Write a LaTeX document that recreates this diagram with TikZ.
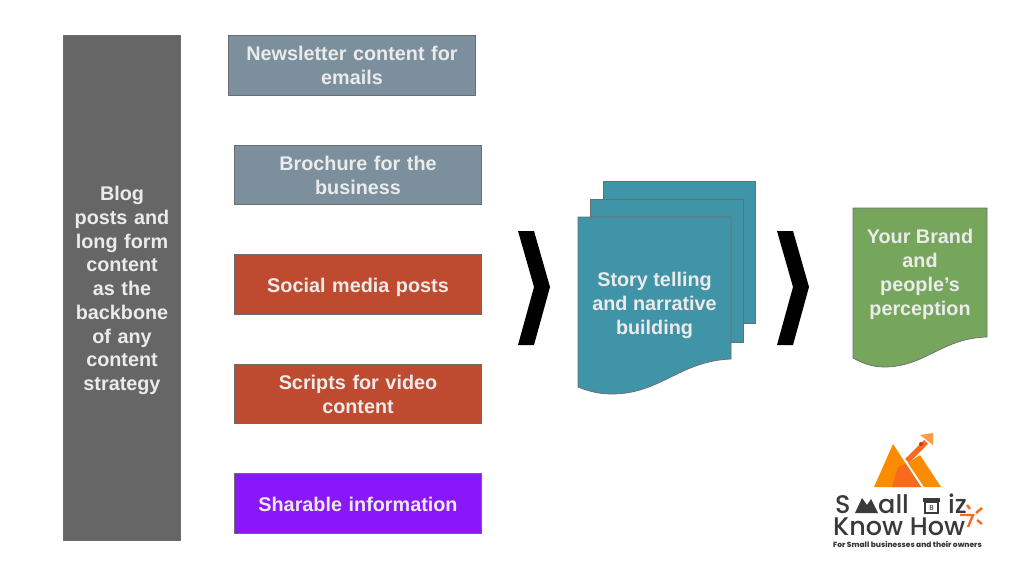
\documentclass[tikz,border=0pt]{standalone}
\usepackage{xcolor}
\usepackage{fontspec}
\setmainfont{Liberation Sans}
\newfontfamily\logofont{Poppins}[UprightFont={* Medium}]
\definecolor{spinegray}{HTML}{666666}
\definecolor{slateblue}{HTML}{7B8F9C}
\definecolor{brickred}{HTML}{BE4B30}
\definecolor{sharepurple}{HTML}{8A17FA}
\definecolor{storyteal}{HTML}{4094A8}
\definecolor{brandgreen}{HTML}{75A65C}
\definecolor{logoorange}{HTML}{FB8C00}
\definecolor{logodeep}{HTML}{F96A1E}
\definecolor{logolight}{HTML}{FF9A45}
\definecolor{logodark}{HTML}{3A3A3A}
\tikzset{
  box/.style={draw=gray!85!black, line width=0.7pt, minimum width=247.5pt, minimum height=59.6pt, align=center,
    text=white!92!black, text width=236pt, font=\fontsize{19.8}{24}\selectfont\bfseries, inner sep=0pt},
  oneline/.style={text height=16pt, text depth=0pt},
  twolines/.style={text height=14.4pt, text depth=23.8pt},
  doclabel/.style={text=white!92!black, align=center, font=\fontsize{19.8}{24}\selectfont\bfseries, inner sep=0pt},
  page/.style={draw=gray!85!black, line width=0.7pt},
  logotext/.style={text=logodark, inner sep=0pt, font=\logofont\fontsize{25.5}{26}\selectfont},
}
\begin{document}
\begin{tikzpicture}[x=1pt,y=-1pt]
  \useasboundingbox (0,0) rectangle (1024,566);
  \fill[white] (0,0) rectangle (1024,566);

  % Left column
  \node[draw=gray!85!black, fill=spinegray, line width=0.7pt, minimum width=117.5pt, minimum height=505.5pt, inner sep=0pt,
    text width=106pt, align=center, text=white!92!black, text height=15pt, text depth=189.6pt,
    font=\fontsize{19.8}{23.75}\selectfont\bfseries] (spine) at (122,288)
    {Blog\\posts and\\long form\\content\\as the\\backbone\\of any\\content\\strategy};

  % Content boxes
  \node[box, twolines, fill=slateblue] (newsletter) at (352,65.2) {Newsletter content for\\emails};
  \node[box, twolines, fill=slateblue] (brochure) at (358,175) {Brochure for the\\business};
  \node[box, oneline, fill=brickred] (social) at (358,284.2) {Social media posts};
  \node[box, twolines, fill=brickred] (scripts) at (358,394) {Scripts for video\\content};
  \node[box, oneline, fill=sharepurple] (sharable) at (358,503.6) {Sharable information};

  % Chevrons
  \fill[black] (518,231) -- (534,231) -- (550,287) -- (534,345) -- (518,345) -- (534,287) -- cycle;
  \fill[black] (777,231) -- (793,231) -- (809,287) -- (793,345) -- (777,345) -- (793,287) -- cycle;

  % Stacked pages
  \draw[page, fill=storyteal] (603,181) rectangle (755.5,323);
  \draw[page, fill=storyteal] (590,199) rectangle (743,342);
  \draw[page, fill=storyteal] (578,217) -- (731,217) -- (731,359)
    .. controls (680,361) and (660,394) .. (612,394)
    .. controls (598,394) and (588,391) .. (578,387) -- cycle;
  \node[doclabel] (story) at (654.5,305) {Story telling\\and narrative\\building};

  % Brand page
  \draw[page, fill=brandgreen] (853,208) -- (987,208) -- (987,337)
    .. controls (942,338) and (925,367) .. (884,367)
    .. controls (872,367) and (862,363) .. (853,358) -- cycle;
  \node[doclabel] (brand) at (920,274.5) {Your Brand\\and\\people’s\\perception};

  % Logo mark
  \fill[logoorange] (893,444) -- (921,487) -- (874,487) -- cycle;
  \fill[logodeep] (892,487) -- (921,487) -- (906,464) -- (898,467) -- cycle;
  \fill[logoorange] (920,455) -- (941,487) -- (924,487) -- (908,463) -- cycle;
  \draw[logodeep, line width=5.5pt] (907,461) -- (926,442);
  \fill[logodeep!70!black] (921,444) circle (2pt);
  \fill[logolight] (920,435) -- (933,433) -- (933,445) -- cycle;

  % Logo words
  \node[logotext, anchor=base west] (logoS) at (835,513) {S};
  \fill[logodark] (855,513) -- (862,498) -- (867,505) -- (871,499) -- (878,513) -- cycle;
  \node[logotext, anchor=base west] (logoall) at (878,513) {all};
  \draw[logodark, line width=1.5pt] (925,502) rectangle (938,513);
  \fill[logodark] (923,498) rectangle (940,502);
  \node[text=logodark, inner sep=0pt, font=\logofont\fontsize{7}{7}\selectfont] (logoB) at (931.5,508) {B};
  \node[logotext, anchor=base west] (logoiz) at (948,513) {iz};
  \node[logotext, anchor=base west] (logoknow) at (833,535) {Know How};
  \node[text=logodark, inner sep=0pt, anchor=base west, font=\logofont\fontsize{7.5}{8}\selectfont\bfseries] (logotag) at (833,547.5)
    {For Small businesses and their owners};

  % Logo sparks
  \draw[logodeep, line width=2.4pt] (967,505) -- (970,509);
  \draw[logodeep, line width=2.4pt] (982,508) -- (976,513);
  \draw[logodeep, line width=2.4pt] (977,520) -- (982,524);
  \draw[logodeep, line width=2.4pt] (960,515) -- (973,515) -- (968,527);
\end{tikzpicture}
\end{document}
